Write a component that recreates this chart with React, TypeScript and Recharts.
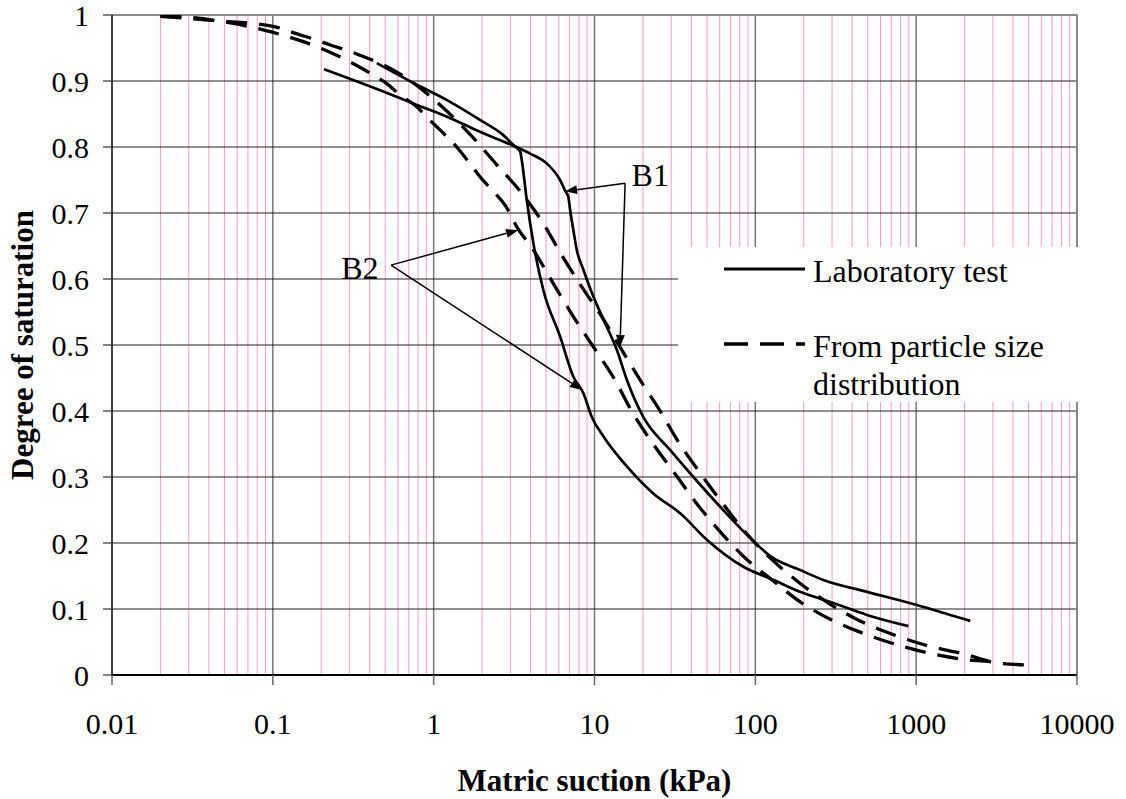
import React from "react";
import {
  LineChart,
  Line,
  XAxis,
  YAxis,
  ReferenceLine,
  ReferenceDot,
  Legend,
} from "recharts";

const SERIF = "'Liberation Serif', 'Times New Roman', Times, serif";

// axes
const xTicks = [0.01, 0.1, 1, 10, 100, 1000, 10000];
const yTicks = [0, 0.1, 0.2, 0.3, 0.4, 0.5, 0.6, 0.7, 0.8, 0.9, 1];
const minorSteps = [2, 3, 4, 5, 6, 7, 8, 9];

// B1 - laboratory test (solid)
const b1LabSuction = [0.208, 0.465, 0.78, 1.21, 1.94, 3.13, 3.98, 5.05, 6.11, 6.56, 6.88, 7.05, 7.39, 7.76, 8.53, 9.85, 11.4, 13.8, 15.9, 20.1, 29.5, 41.2, 60.4, 100, 124, 190, 265, 494, 1010, 1627, 2170];
const b1LabSat = [0.918, 0.886, 0.864, 0.846, 0.823, 0.802, 0.79, 0.775, 0.75, 0.734, 0.724, 0.705, 0.674, 0.644, 0.614, 0.573, 0.538, 0.492, 0.447, 0.391, 0.341, 0.3, 0.255, 0.2, 0.18, 0.159, 0.144, 0.126, 0.106, 0.091, 0.082];

// B2 - laboratory test (solid)
const b2LabSuction = [0.443, 0.748, 1.21, 1.94, 2.71, 3.13, 3.45, 3.53, 3.79, 4.17, 4.81, 6.11, 7.39, 8.53, 9.62, 11.4, 15.9, 23.2, 34.1, 49.9, 84.3, 130, 190, 306, 494, 896];
const b2LabSat = [0.927, 0.897, 0.871, 0.841, 0.818, 0.803, 0.793, 0.78, 0.72, 0.654, 0.583, 0.513, 0.452, 0.427, 0.391, 0.361, 0.316, 0.275, 0.245, 0.205, 0.164, 0.144, 0.126, 0.109, 0.091, 0.074];

// B1 - from particle size distribution (dashed)
const b1PsdSuction = [0.02, 0.046, 0.083, 0.108, 0.135, 0.187, 0.225, 0.302, 0.365, 0.464, 0.748, 1.15, 1.73, 2.47, 3.53, 4.81, 6.26, 8.34, 11.1, 14.4, 19.2, 25.6, 33.3, 45.4, 60.4, 84.3, 124, 185, 285, 438, 723, 1194, 1968, 3250, 5260];
const b1PsdSat = [0.998, 0.991, 0.986, 0.981, 0.973, 0.962, 0.955, 0.945, 0.937, 0.927, 0.897, 0.859, 0.816, 0.773, 0.73, 0.684, 0.636, 0.588, 0.543, 0.497, 0.447, 0.4, 0.353, 0.306, 0.265, 0.22, 0.177, 0.141, 0.109, 0.083, 0.061, 0.044, 0.032, 0.018, 0.015];

// B2 - from particle size distribution (dashed)
const b2PsdSuction = [0.02, 0.028, 0.046, 0.092, 0.153, 0.249, 0.402, 0.511, 0.618, 0.785, 0.927, 1.18, 1.39, 1.68, 1.94, 2.41, 2.78, 3.29, 4.17, 5.55, 7.39, 9.85, 13.4, 17.1, 22.7, 31, 42.2, 59, 88.5, 127, 195, 306, 494, 834, 1377, 2271, 3190];
const b2PsdSat = [0.998, 0.997, 0.991, 0.976, 0.96, 0.939, 0.912, 0.896, 0.879, 0.861, 0.843, 0.818, 0.8, 0.775, 0.755, 0.73, 0.712, 0.679, 0.644, 0.593, 0.543, 0.497, 0.447, 0.399, 0.353, 0.308, 0.263, 0.22, 0.175, 0.144, 0.109, 0.082, 0.061, 0.043, 0.03, 0.022, 0.02];

// annotation arrows (data coordinates)
const b1Label = { x: 22.2, y: 0.758 };
const b2Label = { x: 0.348, y: 0.617 };
const arrows = [
  { from: { x: 15.5, y: 0.745 }, to: { x: 6.56, y: 0.733 } },
  { from: { x: 15.5, y: 0.745 }, to: { x: 14.4, y: 0.497 } },
  { from: { x: 0.543, y: 0.621 }, to: { x: 3.35, y: 0.674 } },
  { from: { x: 0.543, y: 0.621 }, to: { x: 8.37, y: 0.432 } },
];

const toPoints = (xs: number[], ys: number[]) => xs.map((x, i) => ({ x, y: ys[i] }));

const b1Lab = toPoints(b1LabSuction, b1LabSat);
const b2Lab = toPoints(b2LabSuction, b2LabSat);
const b1Psd = toPoints(b1PsdSuction, b1PsdSat);
const b2Psd = toPoints(b2PsdSuction, b2PsdSat);

const minorTicks = xTicks
  .slice(0, -1)
  .flatMap((d) => minorSteps.map((m) => +(d * m).toPrecision(3)));

const Arrow = (p: any) => {
  const { x1, y1, x2, y2 } = p;
  const a = Math.atan2(y2 - y1, x2 - x1);
  const len = 12;
  const half = 4.5;
  const bx = x2 - len * Math.cos(a);
  const by = y2 - len * Math.sin(a);
  const pts = `${x2},${y2} ${bx + half * Math.sin(a)},${by - half * Math.cos(a)} ${bx - half * Math.sin(a)},${by + half * Math.cos(a)}`;
  return (
    <g>
      <line x1={x1} y1={y1} x2={bx} y2={by} stroke="#000" strokeWidth={1.5} />
      <polygon points={pts} fill="#000" />
    </g>
  );
};

const XTitle = (props: any) => {
  const vb = props.viewBox;
  return (
    <text
      x={vb.x + vb.width / 2}
      y={vb.y + 116}
      textAnchor="middle"
      fontFamily={SERIF}
      fontSize={31}
      fontWeight="bold"
      fill="#000"
    >
      Matric suction (kPa)
    </text>
  );
};

const YTitle = (props: any) => {
  const vb = props.viewBox;
  const x = vb.x + 1;
  const y = vb.y + vb.height / 2;
  return (
    <text
      x={x}
      y={y}
      transform={`rotate(-90 ${x} ${y})`}
      textAnchor="middle"
      fontFamily={SERIF}
      fontSize={31}
      fontWeight="bold"
      fill="#000"
    >
      Degree of saturation
    </text>
  );
};

const LegendBox = () => (
  <svg width={404} height={155} style={{ display: "block" }}>
    <line x1={46} y1={22} x2={127} y2={22} stroke="#000" strokeWidth={3} />
    <line x1={46} y1={97} x2={127} y2={97} stroke="#000" strokeWidth={3.3} strokeDasharray="24 12" />
    <text x={135} y={35} fontFamily={SERIF} fontSize={32} fill="#000">
      Laboratory test
    </text>
    <text x={135} y={110} fontFamily={SERIF} fontSize={32} fill="#000">
      From particle size
    </text>
    <text x={135} y={148} fontFamily={SERIF} fontSize={32} fill="#000">
      distribution
    </text>
  </svg>
);

export default function App() {
  return (
    <div style={{ position: "absolute", left: 0, top: 0, width: 1126, height: 799 }}>
      <LineChart
        width={1126}
        height={799}
        margin={{ top: 15, right: 49, bottom: 54, left: 32 }}
        style={{ fontFamily: SERIF }}
      >
        <XAxis
          dataKey="x"
          type="number"
          scale="log"
          domain={[0.01, 10000]}
          ticks={xTicks}
          interval={0}
          allowDataOverflow
          height={70}
          tickSize={10}
          tickMargin={28}
          stroke="#000"
          strokeWidth={2}
          tickLine={{ stroke: "#666", strokeWidth: 1.5 }}
          tick={{ fill: "#000", fontSize: 30, fontFamily: SERIF }}
          label={XTitle}
        />
        <YAxis
          type="number"
          domain={[0, 1]}
          ticks={yTicks}
          interval={0}
          allowDataOverflow
          width={80}
          tickSize={9}
          tickMargin={14}
          stroke="#000"
          strokeWidth={1.5}
          tickLine={{ stroke: "#333", strokeWidth: 1.2 }}
          tick={{ fill: "#000", fontSize: 30, fontFamily: SERIF }}
          label={YTitle}
        />

        {minorTicks.map((v) => (
          <ReferenceLine key={"m" + v} x={v} stroke="#ff99cc" strokeWidth={1} zIndex={-50} />
        ))}
        {xTicks.slice(1, -1).map((v) => (
          <ReferenceLine key={"d" + v} x={v} stroke="#777" strokeWidth={1.5} zIndex={-40} />
        ))}
        {yTicks.slice(1, -1).map((v) => (
          <ReferenceLine key={"h" + v} y={v} stroke="#222" strokeWidth={1.2} zIndex={-30} />
        ))}
        <ReferenceLine y={1} stroke="#888" strokeWidth={2} zIndex={-30} />
        <ReferenceLine x={10000} stroke="#888" strokeWidth={2} zIndex={-30} />

        <Line data={b2Psd} dataKey="y" type="monotone" stroke="#000" strokeWidth={3.3} strokeDasharray="21 12" dot={false} isAnimationActive={false} />
        <Line data={b1Psd} dataKey="y" type="monotone" stroke="#000" strokeWidth={3.3} strokeDasharray="21 12" dot={false} isAnimationActive={false} />
        <Line data={b2Lab} dataKey="y" type="monotone" stroke="#000" strokeWidth={2.7} dot={false} isAnimationActive={false} />
        <Line data={b1Lab} dataKey="y" type="monotone" stroke="#000" strokeWidth={2.7} dot={false} isAnimationActive={false} />

        {arrows.map((a, i) => (
          <ReferenceLine key={"a" + i} segment={[a.from, a.to]} shape={Arrow} zIndex={1500} />
        ))}
        <ReferenceDot
          x={b1Label.x}
          y={b1Label.y}
          r={0}
          fill="none"
          stroke="none"
          label={{ value: "B1", position: "center", fontSize: 32, fontFamily: SERIF, fill: "#000" }}
        />
        <ReferenceDot
          x={b2Label.x}
          y={b2Label.y}
          r={0}
          fill="none"
          stroke="none"
          label={{ value: "B2", position: "center", fontSize: 32, fontFamily: SERIF, fill: "#000" }}
        />

        <Legend
          layout="vertical"
          align="center"
          verticalAlign="middle"
          content={LegendBox}
          wrapperStyle={{ left: 678, top: 247, width: 404, height: 155, background: "#fff" }}
        />
      </LineChart>
    </div>
  );
}
